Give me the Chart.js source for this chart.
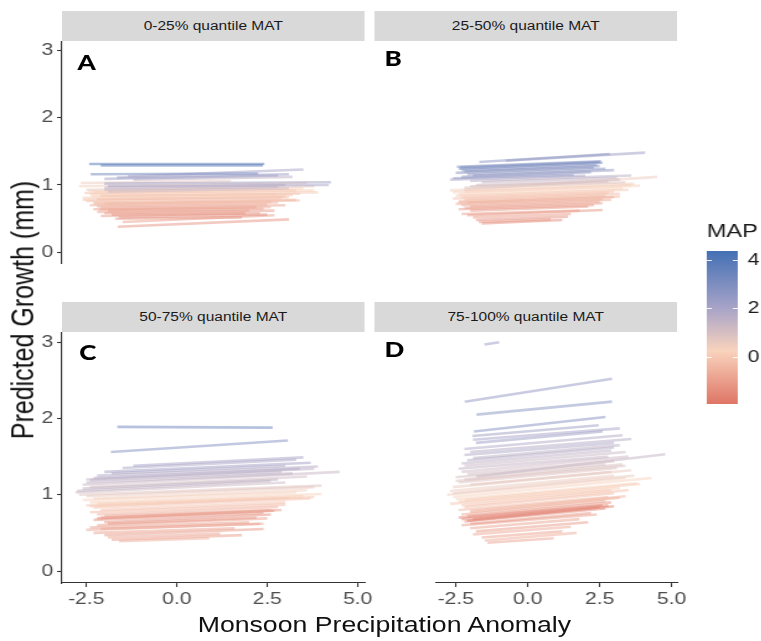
<!DOCTYPE html>
<html>
<head>
<meta charset="utf-8">
<script src="https://cdn.jsdelivr.net/npm/chart.js@4.4.1/dist/chart.umd.min.js"></script>
<style>
  body { margin: 0; background: #fff; overflow: hidden; }
  #fig { position: relative; width: 614px; height: 641px; transform: scaleX(1.24); transform-origin: 0 0;
         font-family: "Liberation Sans", Arial, sans-serif; }
  #fig canvas { position: absolute; }
  .strip { position: absolute; height: 30px; width: 244px; background: #d9d9d9; color: #1a1a1a;
           font-size: 12.5px; line-height: 30px; text-align: center; z-index: 2; }
  .tag { position: absolute; font-family: Lato, sans-serif; font-weight: 900; font-size: 21px;
         line-height: 21px; color: #000; z-index: 2; }
  .title { position: absolute; white-space: nowrap; color: #111; line-height: 1; }
</style>
</head>
<body>
<div id="fig">
  <canvas id="panelA"></canvas>
  <canvas id="panelB"></canvas>
  <canvas id="panelC"></canvas>
  <canvas id="panelD"></canvas>
  <canvas id="legend"></canvas>
  <div class="title" id="ytitle" style="left:17.7px;top:309.5px;font-size:25px;transform:translate(-50%,-50%) rotate(-90deg)">Predicted Growth (mm)</div>
  <div class="title" id="xtitle" style="left:310px;top:625.5px;font-size:21.5px;transform:translate(-50%,-50%)">Monsoon Precipitation Anomaly</div>
</div>
<script>
// one fitted line per site: [anomaly start, growth start, anomaly end, growth end, MAP]
const segA = [
  [-2.42, 1.31, 2.42, 1.31, 4.0], [-2.10, 1.29, 2.38, 1.29, 3.7], [-2.38, 1.16, 2.25, 1.17, 3.3],
  [-1.35, 1.13, 3.50, 1.23, 2.0], [-1.65, 1.11, 3.10, 1.16, 2.3], [-2.00, 1.09, 2.80, 1.14, 2.1],
  [-1.20, 1.08, 3.20, 1.12, 1.6], [-2.00, 1.02, 4.26, 1.04, 2.2], [-1.90, 0.98, 4.20, 1.00, 2.0],
  [-2.65, 1.03, 1.50, 1.06, 0.5], [-2.00, 0.96, 3.00, 1.00, 1.5], [-2.00, 0.93, 2.80, 0.97, 1.4],
  [-1.90, 0.90, 3.10, 0.95, 1.2], [-2.70, 0.98, 3.60, 1.03, 0.4], [-2.50, 0.93, 3.80, 0.98, 0.6],
  [-2.45, 0.91, 3.50, 0.95, 0.3], [-2.30, 0.89, 3.80, 0.92, 0.2], [-2.55, 0.88, 3.30, 0.92, -0.1],
  [-2.40, 0.86, 3.90, 0.89, 0.0], [-2.10, 0.84, 3.40, 0.87, -0.2], [-2.35, 0.83, 2.80, 0.86, 0.2],
  [-2.60, 0.81, 3.20, 0.85, 0.1], [-2.20, 0.79, 3.00, 0.83, -0.3], [-2.60, 0.78, 3.10, 0.82, -0.2],
  [-2.50, 0.76, 2.90, 0.80, -0.1], [-2.30, 0.74, 3.30, 0.78, -0.5], [-2.30, 0.72, 3.40, 0.77, -0.3],
  [-2.00, 0.72, 2.60, 0.75, -0.4], [-2.40, 0.70, 2.80, 0.74, -0.6], [-2.20, 0.68, 2.50, 0.71, -0.7],
  [-2.10, 0.66, 3.00, 0.70, -0.8], [-2.30, 0.64, 2.20, 0.67, -0.9], [-2.15, 0.63, 2.60, 0.67, -0.6],
  [-1.90, 0.62, 2.40, 0.65, -1.0], [-2.20, 0.60, 2.00, 0.62, -0.8], [-2.00, 0.58, 2.70, 0.62, -1.1],
  [-1.80, 0.56, 1.90, 0.58, -1.2], [-2.10, 0.54, 2.30, 0.58, -1.0], [-1.60, 0.52, 2.50, 0.56, -1.3],
  [-1.70, 0.50, 1.80, 0.52, -1.1], [-1.50, 0.45, 2.70, 0.55, -0.9], [-1.63, 0.38, 3.10, 0.49, -1.2]
];
const segB = [
  [-1.68, 1.34, 2.85, 1.46, 2.6], [-0.76, 1.36, 4.08, 1.48, 2.3], [-2.46, 1.27, 2.55, 1.35, 3.0],
  [-2.35, 1.26, 2.50, 1.34, 3.1], [-2.40, 1.24, 2.60, 1.33, 3.2], [-2.30, 1.22, 2.40, 1.30, 2.9],
  [-2.20, 1.20, 2.50, 1.28, 2.8], [-2.50, 1.18, 2.30, 1.26, 2.7], [-2.10, 1.16, 2.70, 1.24, 2.6],
  [-1.90, 1.14, 3.00, 1.22, 2.5], [-2.30, 1.12, 2.20, 1.19, 2.6], [-2.60, 1.10, 1.60, 1.15, 2.4],
  [-2.70, 1.08, 2.00, 1.14, 1.9], [-2.00, 1.06, 3.60, 1.14, 1.6], [-1.60, 1.04, 3.10, 1.11, 1.4],
  [-1.80, 1.00, 3.20, 1.08, 1.1], [-2.00, 0.98, 2.80, 1.05, 1.0], [-2.20, 0.96, 3.40, 1.04, 0.8],
  [-2.20, 0.93, 4.50, 1.12, 0.5], [-2.70, 0.92, 3.70, 1.02, 0.4], [-2.20, 0.90, 3.60, 1.00, 0.3],
  [-2.60, 0.89, 3.90, 0.99, 0.3], [-2.40, 0.86, 3.30, 0.95, 0.2], [-2.50, 0.84, 3.50, 0.93, 0.0],
  [-2.30, 0.82, 3.00, 0.90, -0.1], [-2.60, 0.80, 2.80, 0.88, -0.2], [-2.20, 0.78, 3.20, 0.87, -0.3],
  [-2.40, 0.76, 2.70, 0.84, -0.4], [-2.40, 0.74, 3.20, 0.83, -0.5], [-2.10, 0.74, 3.00, 0.82, -0.5],
  [-2.50, 0.72, 2.60, 0.79, -0.6], [-2.30, 0.70, 2.90, 0.78, -0.7], [-2.00, 0.68, 2.50, 0.75, -0.8],
  [-2.20, 0.66, 2.60, 0.73, -0.9], [-2.40, 0.64, 2.30, 0.70, -1.0], [-2.00, 0.62, 2.10, 0.68, -1.1],
  [-2.30, 0.57, 1.80, 0.62, -0.9], [-2.10, 0.55, 2.60, 0.63, -1.2], [-1.90, 0.52, 1.50, 0.57, -1.0],
  [-1.80, 0.48, 1.40, 0.53, -1.3], [-1.70, 0.45, 0.80, 0.49, -1.1], [-1.60, 0.43, 1.20, 0.48, -1.4]
];
const segC = [
  [-1.64, 1.89, 2.65, 1.88, 3.4], [-1.82, 1.56, 3.07, 1.71, 2.8],
  [-1.20, 1.38, 3.50, 1.49, 2.0], [-1.50, 1.35, 3.30, 1.46, 1.9], [-2.00, 1.30, 3.70, 1.42, 2.1],
  [-1.80, 1.28, 3.00, 1.38, 1.8], [-2.20, 1.25, 3.90, 1.37, 1.7], [-2.30, 1.22, 3.40, 1.34, 1.8],
  [-2.50, 1.20, 3.80, 1.34, 1.5], [-2.40, 1.19, 2.90, 1.30, 1.6], [-2.50, 1.16, 3.20, 1.28, 1.5],
  [-2.60, 1.13, 4.50, 1.30, 1.3], [-2.40, 1.10, 3.60, 1.24, 1.1], [-2.60, 1.08, 2.80, 1.20, 1.6],
  [-2.75, 1.05, 2.60, 1.18, 1.4], [-2.80, 1.03, 3.00, 1.16, 1.2], [-2.70, 1.00, 4.00, 1.12, 0.8],
  [-2.50, 0.98, 3.80, 1.10, 0.6], [-2.30, 0.95, 3.60, 1.06, 0.4], [-2.60, 0.93, 3.30, 1.03, 0.3],
  [-2.40, 0.90, 4.00, 1.01, 0.2], [-2.20, 0.88, 3.50, 0.98, 0.1], [-2.50, 0.86, 3.10, 0.96, 0.0],
  [-2.40, 0.85, 3.80, 0.97, -0.1], [-2.30, 0.83, 3.70, 0.95, -0.1], [-2.10, 0.80, 3.00, 0.90, -0.2],
  [-2.40, 0.77, 3.00, 0.87, -0.4], [-2.20, 0.74, 2.80, 0.84, -0.6], [-2.00, 0.72, 2.60, 0.80, -0.8],
  [-2.10, 0.70, 2.90, 0.80, -1.0], [-2.20, 0.69, 2.70, 0.79, -1.4], [-2.30, 0.67, 2.40, 0.76, -1.2],
  [-2.00, 0.64, 2.60, 0.74, -1.3], [-1.90, 0.62, 2.20, 0.70, -1.1], [-2.20, 0.60, 2.50, 0.69, -0.9],
  [-2.40, 0.57, 2.00, 0.64, -1.0], [-2.10, 0.55, 2.30, 0.62, -0.8], [-2.50, 0.54, 2.40, 0.62, -0.7],
  [-2.30, 0.50, 1.60, 0.56, -0.9], [-2.00, 0.47, 2.40, 0.55, -1.1], [-1.90, 0.44, 1.20, 0.49, -0.8],
  [-1.80, 0.41, 1.80, 0.47, -1.0], [-1.60, 0.39, 0.90, 0.43, -0.6]
];
const segD = [
  [-1.50, 2.97, -0.99, 3.00, 2.4], [-2.19, 2.22, 2.93, 2.52, 2.5], [-1.78, 2.05, 2.93, 2.22, 2.7],
  [-1.87, 1.83, 2.70, 2.02, 2.8], [-1.92, 1.77, 2.47, 1.91, 2.2], [-1.90, 1.72, 3.20, 1.87, 2.0],
  [-1.80, 1.68, 2.60, 1.83, 2.3], [-2.20, 1.60, 3.30, 1.78, 1.8], [-2.00, 1.56, 3.60, 1.73, 1.7],
  [-2.20, 1.52, 3.00, 1.68, 1.9], [-1.90, 1.48, 3.20, 1.65, 1.6], [-2.10, 1.45, 3.00, 1.62, 1.7],
  [-2.30, 1.41, 2.90, 1.58, 1.5], [-2.20, 1.38, 3.40, 1.56, 1.3], [-2.40, 1.34, 2.80, 1.50, 1.4],
  [-2.30, 1.30, 3.50, 1.50, 1.2], [-2.10, 1.27, 3.00, 1.44, 1.1], [-1.78, 1.24, 4.78, 1.53, 1.4],
  [-2.50, 1.23, 2.70, 1.40, 1.0], [-2.20, 1.20, 3.30, 1.40, 0.9], [-2.50, 1.18, 3.40, 1.38, 0.9],
  [-2.40, 1.16, 3.10, 1.35, 0.8], [-2.00, 1.13, 2.90, 1.30, 0.7], [-2.60, 1.10, 3.60, 1.32, 0.6],
  [-2.70, 1.05, 3.00, 1.25, 0.5], [-2.60, 1.02, 3.70, 1.25, 0.6], [-2.80, 1.00, 3.40, 1.22, 0.4],
  [-2.60, 0.97, 4.30, 1.22, 0.3], [-2.50, 0.94, 3.80, 1.15, 0.2], [-2.20, 0.93, 3.90, 1.14, 0.1],
  [-2.40, 0.91, 3.20, 1.09, 0.1], [-2.70, 0.88, 2.90, 1.06, 0.0], [-2.30, 0.86, 3.50, 1.06, -0.1],
  [-2.20, 0.84, 3.00, 1.02, -0.3], [-2.40, 0.80, 2.80, 0.97, -0.4], [-2.00, 0.79, 3.40, 0.98, -0.5],
  [-2.00, 0.77, 3.20, 0.96, -0.6], [-2.30, 0.74, 2.70, 0.92, -0.7], [-2.10, 0.72, 2.90, 0.90, -1.2],
  [-2.40, 0.70, 2.60, 0.86, -1.4], [-1.90, 0.68, 2.50, 0.84, -1.5], [-2.30, 0.68, 2.80, 0.86, -1.6],
  [-2.10, 0.66, 3.00, 0.85, -1.7], [-2.20, 0.65, 2.70, 0.82, -1.3], [-2.00, 0.62, 2.20, 0.76, -1.1],
  [-2.30, 0.60, 2.40, 0.74, -0.9], [-2.00, 0.56, 1.80, 0.68, -0.8], [-1.80, 0.52, 2.10, 0.64, -1.0],
  [-1.90, 0.48, 1.50, 0.58, -0.7], [-1.60, 0.44, 1.20, 0.52, -0.9], [-1.50, 0.40, 1.70, 0.50, -0.6],
  [-1.40, 0.37, 0.90, 0.43, -0.8]
];

const stripLabels = ['0-25% quantile MAT', '25-50% quantile MAT', '50-75% quantile MAT', '75-100% quantile MAT'];
const panelTags = ['A', 'B', 'C', 'D'];
const xTicks = [-2.5, 0, 2.5, 5];
const yTicks = [0, 1, 2, 3];
const mapTicks = [0, 2, 4];
// MAP colour scale, low (dry) to high (wet)
const mapStops = [[-1.94, '#de7565'], [0.25, '#f9d3bd'], [2, '#a8a4c8'], [4.37, '#4470b5']];

const xMin = -3.17, xMax = 5.19, yMin = -0.157, yMax = 3.12;

// plot area edges in the unstretched figure
const colLeft = [50, 302];
const rowTop = [42, 333];
const plotW = 244;
const plotH = [251, 250];
const tagPos = [[62.5, 50.5], [310, 46.5], [64, 340.5], [310, 337.5]];

function hexRgb(h) {
  return [1, 3, 5].map(i => parseInt(h.slice(i, i + 2), 16));
}

function mapColour(v, alpha) {
  let i = 0;
  while (i < mapStops.length - 2 && v > mapStops[i + 1][0]) i++;
  const [v0, c0] = mapStops[i], [v1, c1] = mapStops[i + 1];
  const t = Math.min(1, Math.max(0, (v - v0) / (v1 - v0)));
  const p = hexRgb(c0), q = hexRgb(c1);
  const rgb = p.map((c, k) => Math.round(c + (q[k] - c) * t));
  return 'rgba(' + rgb.join(',') + ',' + alpha + ')';
}

const fig = document.getElementById('fig');
const axisFont = { family: 'Liberation Sans', size: 17 };

[segA, segB, segC, segD].forEach((segs, i) => {
  const col = i % 2, row = Math.floor(i / 2);
  const isLeft = col === 0, isBottom = row === 1;
  const cv = document.getElementById('panel' + panelTags[i]);
  const w = plotW + 60, h = plotH[row] + 42;
  cv.width = w; cv.height = h;
  cv.style.width = w + 'px'; cv.style.height = h + 'px';
  cv.style.left = (colLeft[col] - 50) + 'px';
  cv.style.top = (rowTop[row] - 12) + 'px';

  new Chart(cv, {
    type: 'line',
    data: {
      datasets: segs.map(s => ({
        data: [{ x: s[0], y: s[1] }, { x: s[2], y: s[3] }],
        borderColor: mapColour(s[4], 0.5),
        borderWidth: 2.6,
        pointRadius: 0,
        tension: 0
      }))
    },
    options: {
      responsive: false,
      animation: false,
      events: [],
      layout: { padding: { left: isLeft ? 0 : 50, right: 10, top: 12, bottom: isBottom ? 0 : 30 } },
      plugins: { legend: { display: false }, tooltip: { enabled: false } },
      scales: {
        x: {
          type: 'linear', min: xMin, max: xMax, display: isBottom,
          afterBuildTicks: s => { s.ticks = xTicks.map(v => ({ value: v })); },
          afterFit: s => { s.height = 30; s.paddingLeft = 0; s.paddingRight = 0; },
          grid: { drawOnChartArea: false, tickLength: 4, color: '#333', tickWidth: 1.1 },
          border: { color: '#333', width: 1.1 },
          ticks: { color: '#4d4d4d', font: axisFont, padding: 2, maxRotation: 0, autoSkip: false,
                   callback: v => v.toFixed(1) }
        },
        y: {
          type: 'linear', min: yMin, max: yMax, display: isLeft,
          afterBuildTicks: s => { s.ticks = yTicks.map(v => ({ value: v })); },
          afterFit: s => { s.width = 50; s.paddingTop = 0; s.paddingBottom = 0; },
          grid: { drawOnChartArea: false, tickLength: 4, color: '#333', tickWidth: 1.1 },
          border: { color: '#333', width: 1.1 },
          ticks: { color: '#4d4d4d', font: axisFont, padding: 3, callback: v => String(v) }
        }
      }
    }
  });

  const strip = document.createElement('div');
  strip.className = 'strip';
  strip.style.left = colLeft[col] + 'px';
  strip.style.top = (rowTop[row] - 31) + 'px';
  strip.textContent = stripLabels[i];
  fig.appendChild(strip);

  const tag = document.createElement('div');
  tag.className = 'tag';
  tag.style.left = tagPos[i][0] + 'px';
  tag.style.top = tagPos[i][1] + 'px';
  tag.textContent = panelTags[i];
  fig.appendChild(tag);
});

// colour bar for MAP
(function drawLegend() {
  const cv = document.getElementById('legend');
  const w = 54, h = 205;
  cv.width = w; cv.height = h;
  cv.style.width = w + 'px'; cv.style.height = h + 'px';
  cv.style.left = '560px'; cv.style.top = '205px';
  const ctx = cv.getContext('2d');
  const bx = 10, by = 46, bw = 25, bh = 153;
  const lo = mapStops[0][0], hi = mapStops[mapStops.length - 1][0];
  const grad = ctx.createLinearGradient(0, by + bh, 0, by);
  mapStops.forEach(([v, c]) => grad.addColorStop((v - lo) / (hi - lo), c));
  ctx.fillStyle = grad;
  ctx.fillRect(bx, by, bw, bh);

  ctx.strokeStyle = 'rgba(255,255,255,0.9)';
  ctx.lineWidth = 1;
  ctx.fillStyle = '#1a1a1a';
  ctx.font = '17px "Liberation Sans"';
  ctx.textBaseline = 'middle';
  mapTicks.forEach(v => {
    const y = Math.round(by + bh - (v - lo) / (hi - lo) * bh) + 0.5;
    ctx.beginPath();
    ctx.moveTo(bx, y); ctx.lineTo(bx + 4, y);
    ctx.moveTo(bx + bw - 4, y); ctx.lineTo(bx + bw, y);
    ctx.stroke();
    ctx.fillText(String(v), 43, y);
  });

  ctx.font = '19px "Liberation Sans"';
  ctx.textBaseline = 'alphabetic';
  ctx.fillText('MAP', bx, 32);
})();
</script>
</body>
</html>
